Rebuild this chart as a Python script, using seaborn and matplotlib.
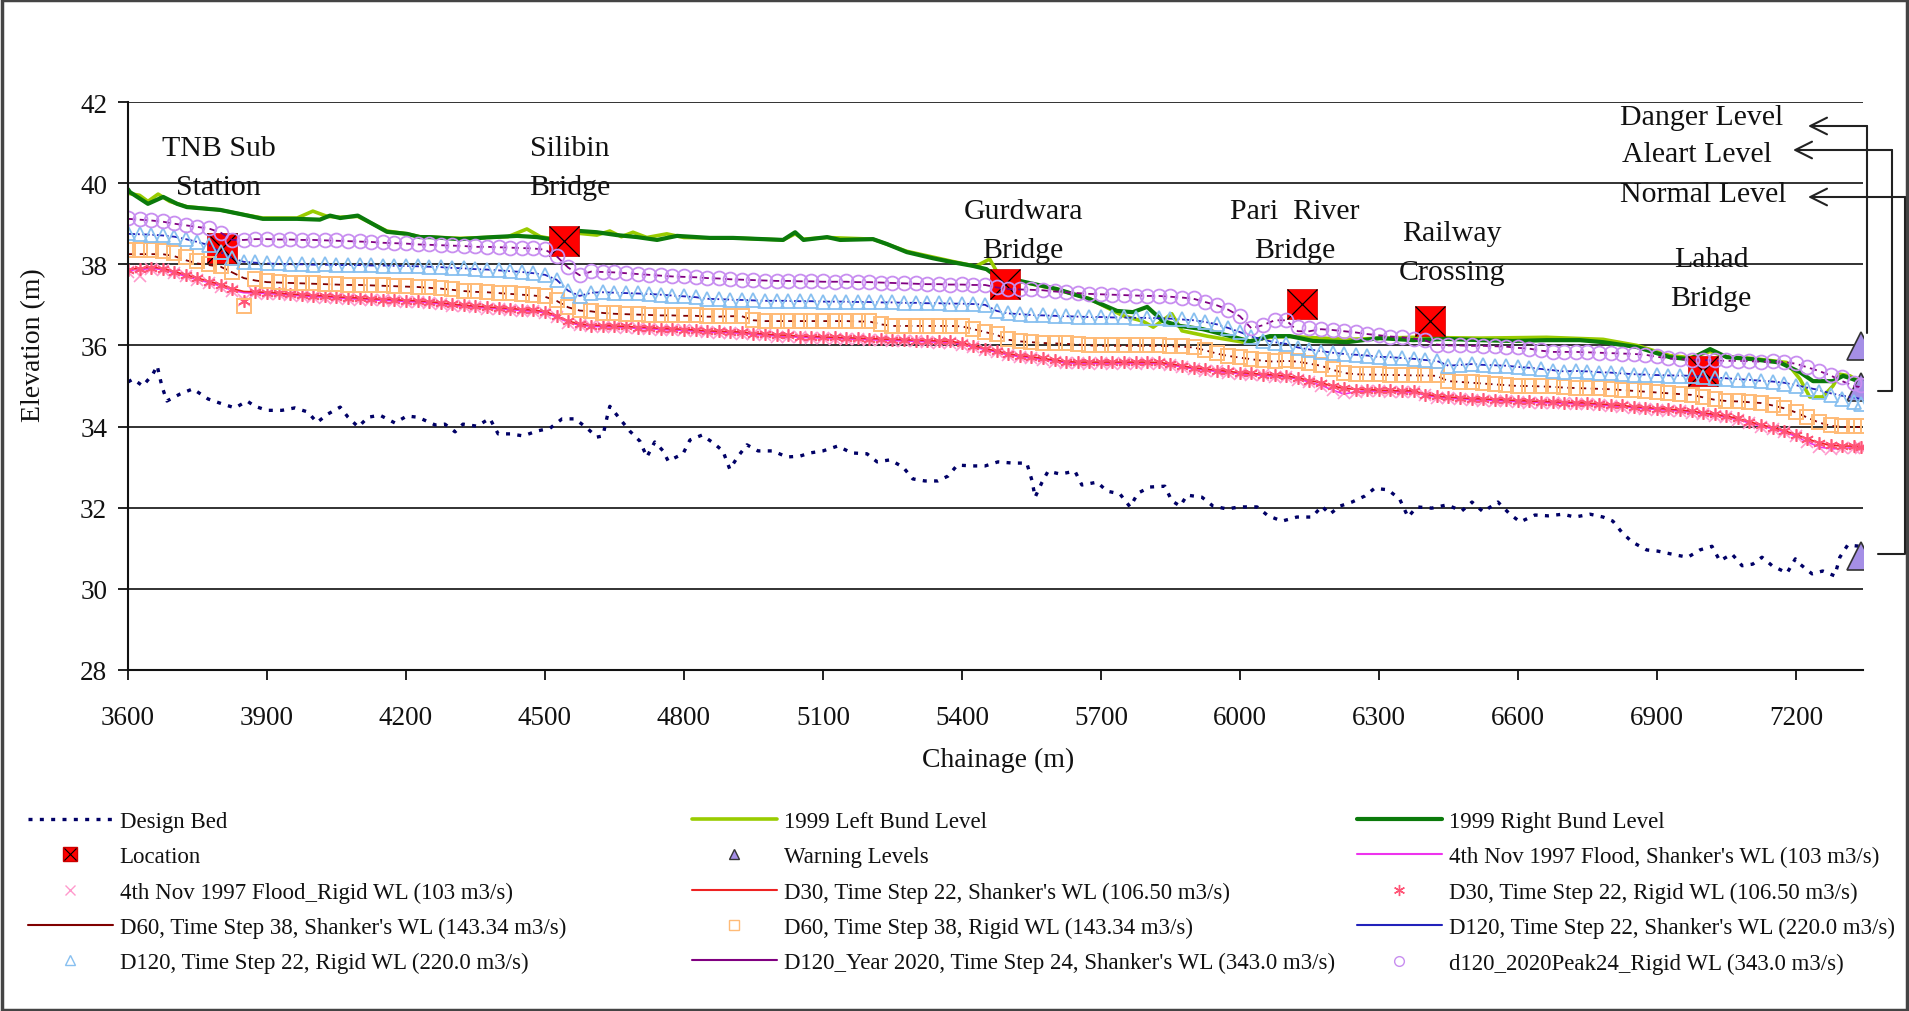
import numpy as np
import pandas as pd
import matplotlib
matplotlib.use('Agg')
import matplotlib.pyplot as plt
from matplotlib.lines import Line2D
from matplotlib.patches import Rectangle
import seaborn as sns

# ---- data ----
bed_x = [3600, 3611, 3632, 3654, 3663, 3673, 3684, 3712, 3740, 3773, 3803, 3831, 3857, 3874, 3900,
         3932, 3960, 3988, 4008, 4030, 4058, 4075, 4097, 4118, 4144, 4176, 4202, 4226, 4263, 4284,
         4306, 4323, 4353, 4381, 4399, 4425, 4453, 4483, 4511, 4537, 4565, 4591, 4612, 4625, 4634,
         4640, 4662, 4683, 4705, 4720, 4737, 4755, 4766, 4798, 4813, 4839, 4863, 4884, 4899, 4917,
         4936, 4960, 4992, 5022, 5050, 5072, 5100, 5132, 5162, 5195, 5217, 5245, 5273, 5294, 5320,
         5348, 5370, 5390, 5424, 5450, 5478, 5510, 5540, 5551, 5558, 5573, 5586, 5612, 5644, 5659,
         5692, 5713, 5741, 5763, 5780, 5806, 5838, 5853, 5871, 5886, 5918, 5942, 5972, 6000, 6037,
         6061, 6091, 6123, 6156, 6177, 6194, 6216, 6242, 6270, 6291, 6320, 6345, 6363, 6382, 6414,
         6447, 6479, 6501, 6525, 6557, 6583, 6605, 6637, 6665, 6697, 6723, 6756, 6784, 6805, 6824,
         6846, 6878, 6902, 6943, 6967, 6993, 7019, 7036, 7062, 7084, 7107, 7127, 7149, 7181, 7199,
         7209, 7235, 7258, 7284, 7295, 7312, 7338]
bed_y = [35.10, 35.17, 35.00, 35.30, 35.50, 35.00, 34.63, 34.80, 34.93, 34.68, 34.56, 34.46, 34.63, 34.50, 34.40,
         34.40, 34.46, 34.36, 34.10, 34.30, 34.48, 34.23, 33.99, 34.23, 34.28, 34.09, 34.26, 34.23, 34.04, 34.06,
         33.87, 34.06, 34.01, 34.20, 33.82, 33.82, 33.77, 33.89, 33.96, 34.19, 34.19, 33.96, 33.74, 33.77, 34.23,
         34.50, 34.19, 33.89, 33.64, 33.25, 33.62, 33.40, 33.15, 33.33, 33.67, 33.79, 33.60, 33.40, 32.95, 33.27,
         33.55, 33.40, 33.40, 33.25, 33.27, 33.35, 33.40, 33.52, 33.35, 33.33, 33.13, 33.18, 33.00, 32.71, 32.66,
         32.66, 32.78, 33.05, 33.03, 33.03, 33.13, 33.10, 33.10, 32.68, 32.26, 32.63, 32.90, 32.83, 32.90, 32.56,
         32.63, 32.41, 32.34, 32.02, 32.36, 32.51, 32.53, 32.17, 32.04, 32.31, 32.26, 32.04, 31.97, 32.02, 32.02,
         31.80, 31.67, 31.77, 31.77, 32.04, 31.84, 32.04, 32.14, 32.29, 32.48, 32.44, 32.21, 31.77, 32.02, 31.99,
         32.07, 31.92, 32.14, 31.90, 32.14, 31.84, 31.65, 31.82, 31.80, 31.84, 31.77, 31.84, 31.77, 31.67, 31.40,
         31.16, 30.96, 30.93, 30.83, 30.78, 30.96, 31.05, 30.69, 30.86, 30.57, 30.61, 30.78, 30.57, 30.39, 30.74,
         30.61, 30.37, 30.44, 30.32, 30.78, 31.08, 31.05]

left_x = [3600, 3625, 3643, 3665, 3690, 3727, 3799, 3842, 3891, 3965, 3999, 4030, 4058, 4096, 4129,
          4159, 4202, 4230, 4317, 4420, 4461, 4490, 4511, 4545, 4576, 4612, 4640, 4665, 4690, 4720,
          4763, 4800, 4856, 4906, 5014, 5040, 5058, 5109, 5208, 5281, 5380, 5430, 5460, 5482, 5525,
          5605, 5676, 5748, 5790, 5813, 5853, 5875, 5929, 6007, 6065, 6108, 6231, 6374, 6518, 6662,
          6784, 6857, 6928, 6971, 7015, 7051, 7107, 7180, 7209, 7230, 7258, 7280, 7295, 7317, 7338]
left_y = [39.75, 39.70, 39.55, 39.73, 39.55, 39.42, 39.34, 39.24, 39.14, 39.14, 39.31, 39.18, 39.16, 39.18, 38.99,
          38.82, 38.75, 38.68, 38.64, 38.68, 38.87, 38.68, 38.64, 38.74, 38.76, 38.72, 38.82, 38.68, 38.79, 38.66,
          38.75, 38.66, 38.65, 38.65, 38.60, 38.75, 38.62, 38.66, 38.62, 38.32, 38.07, 37.95, 38.13, 37.68, 37.58,
          37.38, 37.15, 36.73, 36.60, 36.45, 36.78, 36.36, 36.23, 36.08, 36.20, 36.22, 36.15, 36.20, 36.18, 36.20,
          36.15, 36.00, 35.75, 35.70, 35.85, 35.72, 35.68, 35.58, 35.17, 34.73, 34.73, 35.00, 35.29, 35.25, 35.10]

right_x = [3600, 3604, 3643, 3676, 3706, 3727, 3799, 3842, 3891, 3965, 4014, 4036, 4058, 4096, 4129,
           4159, 4202, 4230, 4252, 4317, 4388, 4440, 4483, 4511, 4545, 4576, 4612, 4655, 4699, 4742,
           4785, 4828, 4856, 4906, 5014, 5040, 5058, 5109, 5137, 5208, 5238, 5281, 5337, 5380, 5424,
           5453, 5482, 5525, 5605, 5676, 5735, 5769, 5800, 5834, 5871, 5920, 5979, 6022, 6065, 6108,
           6158, 6231, 6302, 6374, 6447, 6518, 6589, 6662, 6734, 6784, 6857, 6928, 6971, 7015, 7051,
           7107, 7165, 7209, 7237, 7280, 7302, 7323, 7338]
right_y = [39.85, 39.78, 39.49, 39.66, 39.49, 39.41, 39.34, 39.24, 39.12, 39.12, 39.10, 39.20, 39.14, 39.20, 38.99,
           38.80, 38.75, 38.67, 38.67, 38.62, 38.67, 38.70, 38.67, 38.62, 38.72, 38.82, 38.79, 38.72, 38.67, 38.60,
           38.70, 38.67, 38.65, 38.65, 38.60, 38.79, 38.60, 38.67, 38.60, 38.62, 38.50, 38.30, 38.15, 38.05, 37.96,
           37.88, 37.64, 37.59, 37.39, 37.14, 36.85, 36.82, 36.95, 36.60, 36.48, 36.40, 36.23, 36.10, 36.23, 36.23,
           36.11, 36.08, 36.18, 36.13, 36.16, 36.13, 36.11, 36.13, 36.13, 36.08, 35.96, 35.71, 35.66, 35.91, 35.71,
           35.66, 35.58, 35.34, 35.12, 35.12, 35.25, 35.17, 35.10]

loc_x = [3803, 4541, 5493, 6134, 6410, 6999]
loc_y = [38.40, 38.57, 37.51, 37.02, 36.60, 35.37]
warn_x = [7340, 7340, 7340]
warn_y = [35.99, 34.97, 30.81]

chainage = [3600, 3625, 3650, 3675, 3700, 3725, 3750, 3775, 3800, 3825,
            3850, 3875, 3900, 3925, 3950, 3975, 4000, 4025, 4050, 4075,
            4100, 4125, 4150, 4175, 4200, 4225, 4250, 4275, 4300, 4325,
            4350, 4375, 4400, 4425, 4450, 4475, 4500, 4525, 4550, 4575,
            4600, 4625, 4650, 4675, 4700, 4725, 4750, 4775, 4800, 4825,
            4850, 4875, 4900, 4925, 4950, 4975, 5000, 5025, 5050, 5075,
            5100, 5125, 5150, 5175, 5200, 5225, 5250, 5275, 5300, 5325,
            5350, 5375, 5400, 5425, 5450, 5475, 5500, 5525, 5550, 5575,
            5600, 5625, 5650, 5675, 5700, 5725, 5750, 5775, 5800, 5825,
            5850, 5875, 5900, 5925, 5950, 5975, 6000, 6025, 6050, 6075,
            6100, 6125, 6150, 6175, 6200, 6225, 6250, 6275, 6300, 6325,
            6350, 6375, 6400, 6425, 6450, 6475, 6500, 6525, 6550, 6575,
            6600, 6625, 6650, 6675, 6700, 6725, 6750, 6775, 6800, 6825,
            6850, 6875, 6900, 6925, 6950, 6975, 7000, 7025, 7050, 7075,
            7100, 7125, 7150, 7175, 7200, 7225, 7250, 7275, 7300, 7325,
            7340]

nov97_shanker = [37.84, 37.86, 37.90, 37.87, 37.79, 37.70, 37.62, 37.55, 37.46, 37.36,
                 37.30, 37.29, 37.28, 37.26, 37.24, 37.22, 37.20, 37.19, 37.17, 37.15,
                 37.14, 37.12, 37.11, 37.10, 37.08, 37.07, 37.05, 37.02, 36.99, 36.96,
                 36.94, 36.92, 36.90, 36.88, 36.86, 36.84, 36.81, 36.70, 36.57, 36.50,
                 36.47, 36.46, 36.45, 36.44, 36.42, 36.41, 36.39, 36.38, 36.37, 36.35,
                 36.33, 36.32, 36.31, 36.30, 36.27, 36.25, 36.23, 36.22, 36.20, 36.19,
                 36.18, 36.17, 36.16, 36.15, 36.14, 36.13, 36.12, 36.11, 36.10, 36.09,
                 36.08, 36.07, 36.03, 35.96, 35.90, 35.83, 35.77, 35.72, 35.69, 35.65,
                 35.61, 35.57, 35.56, 35.56, 35.56, 35.56, 35.56, 35.56, 35.56, 35.55,
                 35.52, 35.47, 35.42, 35.39, 35.36, 35.33, 35.30, 35.28, 35.26, 35.24,
                 35.22, 35.17, 35.10, 35.02, 34.90, 34.80, 34.86, 34.88, 34.87, 34.86,
                 34.85, 34.85, 34.77, 34.72, 34.70, 34.68, 34.66, 34.65, 34.64, 34.63,
                 34.61, 34.60, 34.59, 34.58, 34.57, 34.56, 34.55, 34.53, 34.51, 34.49,
                 34.46, 34.44, 34.42, 34.40, 34.38, 34.35, 34.31, 34.27, 34.23, 34.17,
                 34.09, 34.01, 33.95, 33.87, 33.76, 33.62, 33.50, 33.45, 33.46, 33.48,
                 33.47]
nov97_rigid = [37.82, 37.72, 37.88, 37.86, 37.78, 37.70, 37.61, 37.54, 37.45, 37.35,
               37.12, 37.28, 37.27, 37.26, 37.24, 37.21, 37.20, 37.18, 37.17, 37.15,
               37.13, 37.12, 37.11, 37.09, 37.08, 37.06, 37.05, 37.02, 36.98, 36.96,
               36.94, 36.91, 36.90, 36.88, 36.85, 36.84, 36.80, 36.70, 36.56, 36.50,
               36.47, 36.45, 36.45, 36.43, 36.42, 36.40, 36.39, 36.37, 36.37, 36.35,
               36.33, 36.31, 36.31, 36.29, 36.27, 36.25, 36.22, 36.22, 36.20, 36.18,
               36.18, 36.16, 36.16, 36.15, 36.13, 36.13, 36.12, 36.10, 36.10, 36.09,
               36.07, 36.07, 36.02, 35.96, 35.89, 35.83, 35.76, 35.72, 35.68, 35.65,
               35.60, 35.57, 35.56, 35.55, 35.56, 35.55, 35.56, 35.55, 35.56, 35.54,
               35.52, 35.46, 35.42, 35.38, 35.36, 35.32, 35.30, 35.27, 35.26, 35.23,
               35.22, 35.16, 35.10, 35.01, 34.90, 34.82, 34.86, 34.87, 34.87, 34.85,
               34.85, 34.84, 34.77, 34.71, 34.70, 34.67, 34.66, 34.64, 34.64, 34.62,
               34.61, 34.59, 34.59, 34.57, 34.57, 34.55, 34.55, 34.52, 34.51, 34.48,
               34.46, 34.43, 34.42, 34.39, 34.38, 34.34, 34.31, 34.26, 34.23, 34.16,
               34.09, 34.00, 33.95, 33.86, 33.76, 33.61, 33.50, 33.44, 33.46, 33.47,
               33.47]
d30_shanker = [37.88, 37.90, 37.93, 37.90, 37.82, 37.74, 37.66, 37.58, 37.50, 37.40,
               37.33, 37.32, 37.31, 37.29, 37.27, 37.25, 37.23, 37.22, 37.20, 37.18,
               37.17, 37.15, 37.14, 37.13, 37.11, 37.10, 37.08, 37.05, 37.02, 36.99,
               36.97, 36.95, 36.93, 36.91, 36.89, 36.87, 36.84, 36.73, 36.60, 36.53,
               36.50, 36.49, 36.48, 36.47, 36.45, 36.44, 36.42, 36.41, 36.40, 36.38,
               36.36, 36.35, 36.34, 36.33, 36.30, 36.28, 36.26, 36.25, 36.23, 36.22,
               36.21, 36.20, 36.19, 36.18, 36.17, 36.16, 36.15, 36.14, 36.13, 36.12,
               36.11, 36.10, 36.06, 35.99, 35.93, 35.86, 35.80, 35.75, 35.72, 35.68,
               35.64, 35.60, 35.59, 35.59, 35.59, 35.59, 35.59, 35.59, 35.59, 35.58,
               35.55, 35.50, 35.45, 35.42, 35.39, 35.36, 35.33, 35.31, 35.29, 35.27,
               35.25, 35.20, 35.14, 35.08, 35.00, 34.94, 34.92, 34.91, 34.90, 34.89,
               34.88, 34.88, 34.80, 34.75, 34.73, 34.71, 34.69, 34.68, 34.67, 34.66,
               34.64, 34.63, 34.62, 34.61, 34.60, 34.59, 34.58, 34.56, 34.54, 34.52,
               34.49, 34.47, 34.45, 34.43, 34.41, 34.38, 34.34, 34.30, 34.26, 34.20,
               34.12, 34.04, 33.98, 33.90, 33.80, 33.70, 33.60, 33.54, 33.52, 33.52,
               33.50]
d30_rigid = [37.86, 37.89, 37.92, 37.89, 37.81, 37.73, 37.65, 37.57, 37.49, 37.39,
             37.10, 37.31, 37.30, 37.29, 37.26, 37.25, 37.22, 37.22, 37.19, 37.18,
             37.16, 37.15, 37.13, 37.13, 37.10, 37.10, 37.07, 37.05, 37.01, 36.99,
             36.96, 36.95, 36.92, 36.91, 36.88, 36.87, 36.83, 36.73, 36.59, 36.53,
             36.49, 36.49, 36.47, 36.47, 36.44, 36.44, 36.41, 36.41, 36.39, 36.38,
             36.35, 36.35, 36.33, 36.33, 36.29, 36.28, 36.25, 36.25, 36.22, 36.22,
             36.20, 36.20, 36.18, 36.18, 36.16, 36.16, 36.14, 36.14, 36.12, 36.12,
             36.10, 36.10, 36.05, 35.99, 35.92, 35.86, 35.79, 35.75, 35.71, 35.68,
             35.63, 35.60, 35.58, 35.59, 35.58, 35.59, 35.58, 35.59, 35.58, 35.58,
             35.54, 35.50, 35.44, 35.42, 35.38, 35.36, 35.32, 35.31, 35.28, 35.27,
             35.24, 35.20, 35.13, 35.08, 34.99, 34.94, 34.91, 34.91, 34.89, 34.89,
             34.87, 34.88, 34.79, 34.75, 34.72, 34.71, 34.68, 34.68, 34.66, 34.66,
             34.63, 34.63, 34.61, 34.61, 34.59, 34.59, 34.57, 34.56, 34.53, 34.52,
             34.48, 34.47, 34.44, 34.43, 34.40, 34.38, 34.33, 34.30, 34.25, 34.20,
             34.11, 34.04, 33.97, 33.90, 33.79, 33.70, 33.59, 33.54, 33.51, 33.52,
             33.49]
d60_shanker = [38.25, 38.25, 38.25, 38.25, 38.20, 38.10, 38.02, 37.98, 37.94, 37.80,
               37.66, 37.60, 37.56, 37.55, 37.54, 37.53, 37.52, 37.51, 37.50, 37.49,
               37.49, 37.48, 37.47, 37.46, 37.45, 37.44, 37.42, 37.40, 37.37, 37.34,
               37.32, 37.31, 37.29, 37.27, 37.25, 37.23, 37.20, 37.10, 36.94, 36.86,
               36.84, 36.80, 36.78, 36.77, 36.76, 36.75, 36.74, 36.74, 36.73, 36.73,
               36.71, 36.71, 36.72, 36.72, 36.62, 36.60, 36.60, 36.60, 36.60, 36.60,
               36.60, 36.60, 36.60, 36.59, 36.59, 36.52, 36.48, 36.48, 36.48, 36.48,
               36.48, 36.48, 36.47, 36.40, 36.33, 36.26, 36.14, 36.10, 36.08, 36.06,
               36.05, 36.04, 36.02, 36.00, 35.99, 35.99, 35.99, 35.99, 35.99, 35.99,
               35.98, 35.97, 35.95, 35.88, 35.80, 35.74, 35.70, 35.66, 35.62, 35.60,
               35.62, 35.60, 35.55, 35.50, 35.40, 35.32, 35.29, 35.28, 35.28, 35.27,
               35.27, 35.26, 35.26, 35.25, 35.12, 35.10, 35.08, 35.06, 35.04, 35.02,
               35.00, 35.00, 34.99, 34.98, 34.96, 34.95, 34.94, 34.93, 34.92, 34.90,
               34.88, 34.86, 34.84, 34.82, 34.80, 34.78, 34.72, 34.66, 34.63, 34.62,
               34.60, 34.58, 34.52, 34.45, 34.35, 34.22, 34.10, 34.02, 33.99, 33.99,
               33.99]
d60_rigid = [38.35, 38.35, 38.34, 38.33, 38.28, 38.18, 38.08, 38.00, 37.95, 37.82,
             36.97, 37.63, 37.58, 37.56, 37.55, 37.54, 37.53, 37.52, 37.51, 37.50,
             37.50, 37.49, 37.48, 37.47, 37.46, 37.45, 37.43, 37.41, 37.38, 37.35,
             37.33, 37.32, 37.30, 37.28, 37.26, 37.24, 37.21, 37.11, 36.95, 36.87,
             36.85, 36.81, 36.79, 36.78, 36.77, 36.76, 36.75, 36.75, 36.74, 36.74,
             36.72, 36.72, 36.73, 36.73, 36.63, 36.61, 36.61, 36.61, 36.61, 36.61,
             36.61, 36.61, 36.61, 36.60, 36.60, 36.53, 36.49, 36.49, 36.49, 36.49,
             36.49, 36.49, 36.48, 36.41, 36.34, 36.27, 36.15, 36.11, 36.09, 36.07,
             36.06, 36.05, 36.03, 36.01, 36.00, 36.00, 36.00, 36.00, 36.00, 36.00,
             35.99, 35.98, 35.96, 35.89, 35.81, 35.75, 35.71, 35.67, 35.63, 35.61,
             35.63, 35.61, 35.56, 35.51, 35.41, 35.33, 35.30, 35.29, 35.29, 35.28,
             35.28, 35.27, 35.27, 35.26, 35.13, 35.11, 35.09, 35.07, 35.05, 35.03,
             35.01, 35.01, 35.00, 34.99, 34.97, 34.96, 34.95, 34.94, 34.93, 34.91,
             34.89, 34.87, 34.85, 34.83, 34.81, 34.79, 34.73, 34.67, 34.64, 34.63,
             34.61, 34.59, 34.53, 34.46, 34.36, 34.23, 34.11, 34.04, 34.02, 34.02,
             34.02]
d120_shanker = [38.75, 38.74, 38.73, 38.71, 38.68, 38.62, 38.55, 38.47, 38.30, 38.15,
                38.06, 38.04, 38.02, 38.01, 38.00, 38.00, 37.99, 37.99, 37.98, 37.98,
                37.98, 37.97, 37.97, 37.96, 37.96, 37.95, 37.94, 37.93, 37.91, 37.90,
                37.88, 37.87, 37.85, 37.83, 37.81, 37.78, 37.74, 37.62, 37.35, 37.22,
                37.30, 37.31, 37.30, 37.29, 37.28, 37.27, 37.25, 37.23, 37.21, 37.19,
                37.15, 37.14, 37.13, 37.12, 37.11, 37.10, 37.10, 37.10, 37.09, 37.09,
                37.08, 37.08, 37.08, 37.07, 37.07, 37.06, 37.06, 37.05, 37.05, 37.04,
                37.04, 37.03, 37.03, 37.02, 37.00, 36.85, 36.79, 36.77, 36.75, 36.74,
                36.73, 36.72, 36.71, 36.70, 36.70, 36.69, 36.69, 36.68, 36.68, 36.67,
                36.66, 36.64, 36.62, 36.58, 36.52, 36.43, 36.33, 36.22, 36.14, 36.08,
                36.04, 35.95, 35.90, 35.86, 35.82, 35.79, 35.77, 35.75, 35.72, 35.71,
                35.69, 35.67, 35.64, 35.62, 35.50, 35.52, 35.54, 35.52, 35.51, 35.50,
                35.47, 35.45, 35.42, 35.39, 35.36, 35.37, 35.36, 35.34, 35.33, 35.31,
                35.29, 35.28, 35.27, 35.26, 35.26, 35.25, 35.23, 35.21, 35.19, 35.17,
                35.15, 35.13, 35.11, 35.08, 35.02, 34.96, 34.90, 34.82, 34.76, 34.72,
                34.68]
d120_rigid = [38.76, 38.75, 38.73, 38.72, 38.68, 38.63, 38.55, 38.48, 38.30, 38.16,
              38.06, 38.05, 38.02, 38.02, 38.00, 38.00, 37.99, 38.00, 37.98, 37.98,
              37.98, 37.98, 37.97, 37.96, 37.96, 37.95, 37.94, 37.93, 37.91, 37.90,
              37.88, 37.87, 37.85, 37.83, 37.81, 37.78, 37.74, 37.62, 37.35, 37.22,
              37.30, 37.31, 37.30, 37.29, 37.28, 37.27, 37.25, 37.23, 37.21, 37.19,
              37.15, 37.14, 37.13, 37.12, 37.11, 37.10, 37.10, 37.10, 37.09, 37.09,
              37.08, 37.08, 37.08, 37.07, 37.07, 37.06, 37.06, 37.05, 37.05, 37.04,
              37.04, 37.03, 37.03, 37.02, 37.00, 36.85, 36.79, 36.77, 36.75, 36.74,
              36.73, 36.72, 36.71, 36.70, 36.70, 36.69, 36.69, 36.68, 36.68, 36.67,
              36.66, 36.64, 36.62, 36.58, 36.52, 36.43, 36.33, 36.20, 36.12, 36.06,
              36.03, 35.94, 35.89, 35.85, 35.81, 35.78, 35.76, 35.74, 35.72, 35.70,
              35.68, 35.66, 35.63, 35.61, 35.49, 35.51, 35.53, 35.51, 35.50, 35.49,
              35.46, 35.44, 35.41, 35.38, 35.35, 35.36, 35.35, 35.33, 35.32, 35.30,
              35.28, 35.27, 35.26, 35.25, 35.25, 35.24, 35.22, 35.20, 35.18, 35.16,
              35.14, 35.12, 35.10, 35.06, 35.00, 34.93, 34.86, 34.78, 34.68, 34.60,
              34.56]
y2020_shanker = [39.12, 39.10, 39.08, 39.05, 39.00, 38.96, 38.92, 38.88, 38.78, 38.60,
                 38.60, 38.62, 38.62, 38.61, 38.61, 38.60, 38.60, 38.59, 38.58, 38.57,
                 38.56, 38.55, 38.53, 38.52, 38.51, 38.49, 38.48, 38.47, 38.46, 38.45,
                 38.43, 38.43, 38.42, 38.41, 38.40, 38.39, 38.36, 38.20, 37.92, 37.73,
                 37.82, 37.81, 37.80, 37.78, 37.76, 37.74, 37.72, 37.70, 37.69, 37.68,
                 37.66, 37.65, 37.63, 37.62, 37.61, 37.60, 37.59, 37.59, 37.58, 37.58,
                 37.57, 37.57, 37.57, 37.56, 37.56, 37.55, 37.54, 37.53, 37.52, 37.51,
                 37.51, 37.50, 37.50, 37.49, 37.49, 37.43, 37.39, 37.38, 37.37, 37.36,
                 37.33, 37.31, 37.29, 37.27, 37.26, 37.25, 37.24, 37.23, 37.22, 37.22,
                 37.20, 37.18, 37.15, 37.07, 36.99, 36.88, 36.72, 36.42, 36.50, 36.62,
                 36.62, 36.35, 36.35, 36.40, 36.38, 36.35, 36.32, 36.28, 36.25, 36.22,
                 36.20, 36.17, 36.12, 36.02, 36.00, 36.00, 35.99, 35.99, 35.98, 35.97,
                 35.94, 35.92, 35.87, 35.84, 35.84, 35.84, 35.83, 35.82, 35.81, 35.80,
                 35.79, 35.77, 35.72, 35.68, 35.66, 35.65, 35.64, 35.63, 35.62, 35.62,
                 35.61, 35.60, 35.60, 35.59, 35.55, 35.46, 35.37, 35.26, 35.12, 35.00,
                 34.97]
y2020_rigid = [39.13, 39.11, 39.08, 39.06, 39.01, 38.97, 38.92, 38.89, 38.78, 38.61,
               38.61, 38.62, 38.63, 38.61, 38.62, 38.60, 38.61, 38.59, 38.59, 38.57,
               38.57, 38.55, 38.54, 38.52, 38.52, 38.49, 38.49, 38.47, 38.47, 38.45,
               38.44, 38.43, 38.43, 38.41, 38.41, 38.39, 38.37, 38.20, 37.93, 37.73,
               37.83, 37.81, 37.81, 37.78, 37.77, 37.74, 37.73, 37.70, 37.70, 37.68,
               37.67, 37.65, 37.64, 37.62, 37.62, 37.60, 37.60, 37.59, 37.59, 37.58,
               37.58, 37.57, 37.58, 37.56, 37.57, 37.55, 37.55, 37.53, 37.53, 37.51,
               37.52, 37.50, 37.51, 37.49, 37.50, 37.43, 37.40, 37.38, 37.38, 37.36,
               37.34, 37.31, 37.30, 37.27, 37.27, 37.25, 37.25, 37.23, 37.23, 37.22,
               37.21, 37.18, 37.16, 37.07, 37.00, 36.88, 36.73, 36.42, 36.50, 36.62,
               36.63, 36.45, 36.42, 36.41, 36.39, 36.35, 36.33, 36.28, 36.26, 36.22,
               36.21, 36.17, 36.13, 36.02, 36.01, 36.00, 36.00, 35.99, 35.99, 35.97,
               35.95, 35.92, 35.88, 35.84, 35.85, 35.84, 35.84, 35.82, 35.82, 35.80,
               35.80, 35.77, 35.73, 35.68, 35.67, 35.65, 35.65, 35.63, 35.63, 35.62,
               35.62, 35.60, 35.61, 35.59, 35.56, 35.46, 35.38, 35.28, 35.22, 35.08,
               35.02]

labels_col1 = ['Design Bed', 'Location', '4th Nov 1997 Flood_Rigid WL (103 m3/s)',
               "D60, Time Step 38, Shanker's WL (143.34 m3/s)", 'D120, Time Step 22, Rigid WL (220.0 m3/s)']
labels_col2 = ['1999 Left Bund Level', 'Warning Levels', "D30, Time Step 22, Shanker's WL (106.50 m3/s)",
               'D60, Time Step 38, Rigid WL (143.34 m3/s)', "D120_Year 2020, Time Step 24, Shanker's WL (343.0 m3/s)"]
labels_col3 = ['1999 Right Bund Level', "4th Nov 1997 Flood, Shanker's WL (103 m3/s)",
               'D30, Time Step 22, Rigid WL (106.50 m3/s)', "D120, Time Step 22, Shanker's WL (220.0 m3/s)",
               'd120_2020Peak24_Rigid WL (343.0 m3/s)']

place_names = ['TNB Sub\nStation', 'Silibin\nBridge', 'Gurdwara\nBridge', 'Pari  River\nBridge',
               'Railway\nCrossing', 'Lahad\nBridge']
place_x = [3796, 4554, 5532, 6119, 6458, 7017]
place_y = [40.39, 40.39, 38.84, 38.84, 38.30, 37.66]
level_names = ['Danger Level', 'Aleart Level', 'Normal Level']

wl = pd.DataFrame({'chainage': chainage,
                   'nov97_s': nov97_shanker, 'nov97_r': nov97_rigid,
                   'd30_s': d30_shanker, 'd30_r': d30_rigid,
                   'd60_s': d60_shanker, 'd60_r': d60_rigid,
                   'd120_s': d120_shanker, 'd120_r': d120_rigid,
                   'y2020_s': y2020_shanker, 'y2020_r': y2020_rigid})

# ---- styling ----
sns.set_theme(style='white')
plt.rcParams['font.family'] = ['Liberation Serif', 'DejaVu Serif']

c_bed = '#000066'
c_left = '#99cc00'
c_right = '#0b7a0b'
c_nov_s, c_nov_r = '#ee33ee', '#ff99cc'
c_d30_s, c_d30_r = '#ee2222', '#ff5577'
c_d60_s, c_d60_r = '#800000', '#ffbb77'
c_d120_s, c_d120_r = '#2222bb', '#88c0f0'
c_20_s, c_20_r = '#800080', '#c88ef0'
asterisk = (6, 2, 0)

W, H = 1909, 1012
fig = plt.figure(figsize=(W / 100, H / 100), dpi=100)
ax = fig.add_axes([128 / W, 1 - 671 / H, 1735 / W, 568 / H])


def line(x, y, color, lw=1.2, ls='-', **kw):
    sns.lineplot(x=x, y=y, color=color, lw=lw, linestyle=ls, sort=False,
                 estimator=None, legend=False, ax=ax, **kw)


def marks(x, y, color, marker, ms, mew=1.0, fill='none', edge=None):
    sns.lineplot(x=x, y=y, color=color, linestyle='', marker=marker, markersize=ms,
                 markerfacecolor=fill, markeredgecolor=edge or color, markeredgewidth=mew,
                 sort=False, estimator=None, legend=False, ax=ax)


line(bed_x, bed_y, c_bed, lw=2.4, ls=(0, (1.2, 2.2)))
line(left_x, left_y, c_left, lw=2.6)
line(right_x, right_y, c_right, lw=3.0)
marks(loc_x, loc_y, 'red', 's', 22, mew=0.5, fill='red', edge='#cc0000')
marks(loc_x, loc_y, 'black', 'x', 21, mew=0.9)
marks(warn_x, warn_y, '#a58fe6', '^', 20, mew=1.2, fill='#a58fe6', edge='#333333')

line(wl['chainage'], wl['nov97_s'], c_nov_s, lw=1.2)
marks(wl['chainage'], wl['nov97_r'], c_nov_r, 'x', 8, mew=1.2)
line(wl['chainage'], wl['d30_s'], c_d30_s, lw=1.2)
marks(wl['chainage'], wl['d30_r'], c_d30_r, asterisk, 9, mew=1.2)
line(wl['chainage'], wl['d60_s'], c_d60_s, lw=1.3, ls=(0, (4, 2.5)))
marks(wl['chainage'], wl['d60_r'], c_d60_r, 's', 10, mew=1.4)
line(wl['chainage'], wl['d120_s'], c_d120_s, lw=1.3, ls=(0, (4, 1.5, 1, 1.5)))
marks(wl['chainage'], wl['d120_r'], c_d120_r, '^', 9.5, mew=1.3)
line(wl['chainage'], wl['y2020_s'], c_20_s, lw=1.3, ls=(0, (4, 2.5)))
marks(wl['chainage'], wl['y2020_r'], c_20_r, 'o', 10, mew=1.3)

ax.set_xlim(3600, 7345)
ax.set_ylim(28, 42)
ax.set_xticks(range(3600, 7201, 300))
ax.set_yticks(range(28, 43, 2))
ax.grid(axis='y', color='#222222', lw=1.3)
ax.grid(axis='x', visible=False)
ax.set_axisbelow(True)
for s in ['top', 'right']:
    ax.spines[s].set_visible(False)
for s in ['left', 'bottom']:
    ax.spines[s].set_color('#111111')
    ax.spines[s].set_linewidth(1.5)
ax.tick_params(axis='both', which='major', direction='out', length=7, width=1.3,
               color='#111111', labelsize=19.5, labelcolor='#111111', left=True, bottom=True)
ax.tick_params(axis='x', pad=18)
ax.tick_params(axis='y', pad=8)
ax.set_xlabel('Chainage (m)', fontsize=20, color='#111111')
ax.set_ylabel('Elevation (m)', fontsize=20, color='#111111')
ax.xaxis.set_label_coords(0.5014, -0.136)
ax.yaxis.set_label_coords(-0.047, 0.574)

for name, px, py in zip(place_names, place_x, place_y):
    ax.text(px, py, name, ha='center', va='center', fontsize=21.5, color='#111111',
            linespacing=1.65, zorder=6)

# warning level labels and connector arrows (figure pixel coords)
level_pos = [(1702, 118), (1697, 155), (1703, 195)]
paths = [[(1867, 334), (1867, 127)],
         [(1878, 392), (1892, 392), (1892, 151)],
         [(1878, 555), (1905, 555), (1905, 198)]]
heads = [(1808, 127), (1793, 151), (1808, 198)]
for name, (tx, ty) in zip(level_names, level_pos):
    fig.text(tx / W, 1 - ty / H, name, ha='center', va='center', fontsize=21.5, color='#111111')
for pts, (hx, hy) in zip(paths, heads):
    xs = [p[0] / W for p in pts]
    ys = [1 - p[1] / H for p in pts]
    fig.add_artist(Line2D(xs, ys, transform=fig.transFigure, color='#222222', lw=1.5))
    sx, sy = pts[-1]
    ax.annotate('', xy=(hx, H - hy), xycoords='figure pixels',
                xytext=(sx, H - sy), textcoords='figure pixels',
                arrowprops=dict(arrowstyle='->', color='#222222', lw=1.5,
                                mutation_scale=30, shrinkA=0, shrinkB=0))

# legend: three fixed columns
def proxy(color, lw=0, ls='-', marker=None, ms=0, fill='none', edge=None, mew=1.0):
    return Line2D([], [], color=color, lw=lw, linestyle=ls if lw else '', marker=marker,
                  markersize=ms, markerfacecolor=fill, markeredgecolor=edge or color,
                  markeredgewidth=mew)


loc_handle = (proxy('red', marker='s', ms=10, fill='red', edge='#cc0000'),
              proxy('black', marker='x', ms=9, mew=0.8))
h1 = [proxy(c_bed, lw=2.4, ls=(0, (1.2, 2.2))), loc_handle,
      proxy(c_nov_r, marker='x', ms=7), proxy(c_d60_s, lw=1.5), proxy(c_d120_r, marker='^', ms=7)]
h2 = [proxy(c_left, lw=2.6), proxy('#a58fe6', marker='^', ms=7, fill='#a58fe6', edge='#333333'),
      proxy(c_d30_s, lw=1.5), proxy(c_d60_r, marker='s', ms=7), proxy(c_20_s, lw=1.5)]
h3 = [proxy(c_right, lw=3.0), proxy(c_nov_s, lw=1.5), proxy(c_d30_r, marker=asterisk, ms=8),
      proxy(c_d120_s, lw=1.5), proxy(c_20_r, marker='o', ms=7)]

for handles, labels, x0 in [(h1, labels_col1, 28), (h2, labels_col2, 692), (h3, labels_col3, 1357)]:
    leg = fig.legend(handles, labels, loc='upper left', bbox_to_anchor=(x0 / W, 1 - 812 / H),
                     frameon=False, fontsize=16.5, handlelength=3.7, handletextpad=0.3,
                     labelspacing=0.62, borderpad=0, borderaxespad=0)
    for t in leg.get_texts():
        t.set_color('#111111')

fig.add_artist(Rectangle((0.001, 0.001), 0.998, 0.998, transform=fig.transFigure,
                         fill=False, edgecolor='#444444', lw=2.5))

fig.savefig('out.png', dpi=100)
